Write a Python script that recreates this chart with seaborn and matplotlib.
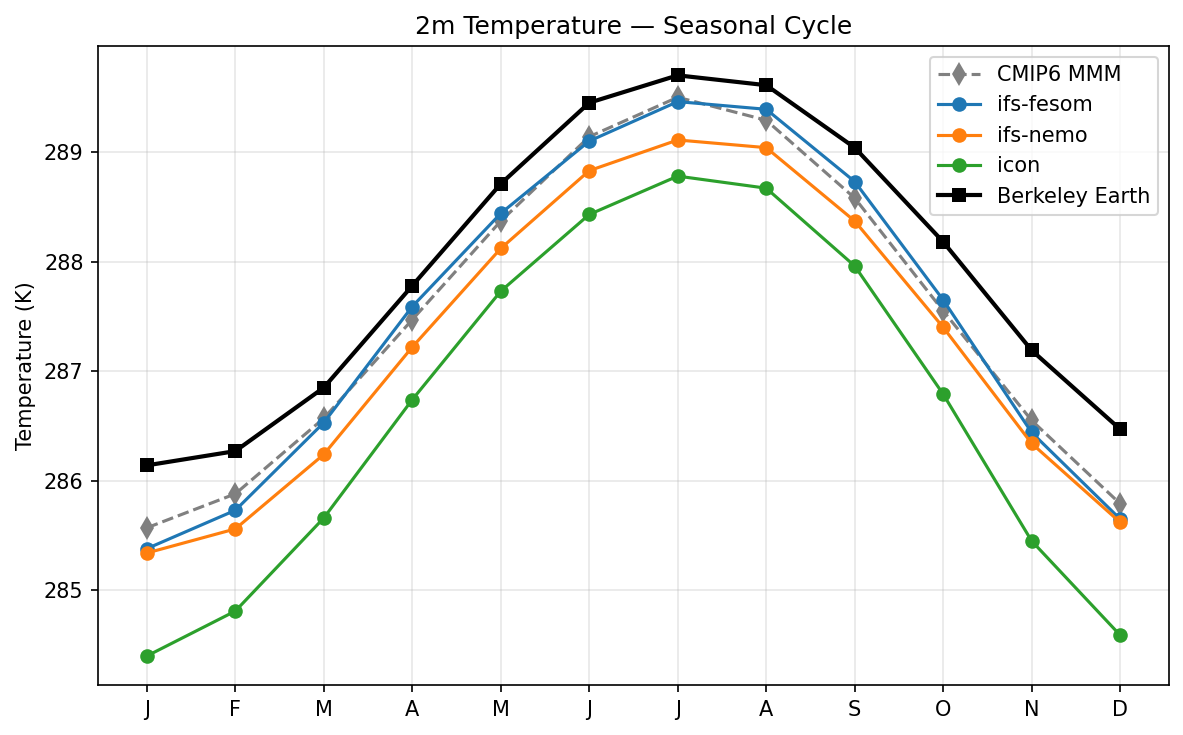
import numpy as np
import matplotlib
matplotlib.use("Agg")
import matplotlib.pyplot as plt
import seaborn as sns

# mean seasonal cycle of 2m temperature (K)
months = ["J", "F", "M", "A", "M", "J", "J", "A", "S", "O", "N", "D"]
cmip6_mmm = [285.57, 285.88, 286.57, 287.47, 288.37, 289.14, 289.50, 289.29, 288.58, 287.55, 286.55, 285.79]
ifs_fesom = [285.38, 285.73, 286.53, 287.59, 288.44, 289.10, 289.46, 289.39, 288.73, 287.65, 286.44, 285.65]
ifs_nemo = [285.34, 285.56, 286.24, 287.22, 288.12, 288.83, 289.11, 289.04, 288.37, 287.40, 286.34, 285.62]
icon = [284.40, 284.81, 285.66, 286.74, 287.73, 288.43, 288.78, 288.67, 287.96, 286.79, 285.45, 284.59]
berkeley = [286.14, 286.27, 286.85, 287.78, 288.71, 289.45, 289.70, 289.61, 289.04, 288.18, 287.19, 286.47]

x = np.arange(len(months))

fig, ax = plt.subplots(figsize=(1183 / 150, 735 / 150), dpi=150)

sns.lineplot(x=x, y=cmip6_mmm, ax=ax, color="gray", linestyle="--", marker="d",
             markersize=8, markeredgewidth=0, linewidth=1.5, label="CMIP6 MMM")
sns.lineplot(x=x, y=ifs_fesom, ax=ax, color="#1f77b4", marker="o",
             markersize=7, markeredgewidth=0, linewidth=1.5, label="ifs-fesom")
sns.lineplot(x=x, y=ifs_nemo, ax=ax, color="#ff7f0e", marker="o",
             markersize=7, markeredgewidth=0, linewidth=1.5, label="ifs-nemo")
sns.lineplot(x=x, y=icon, ax=ax, color="#2ca02c", marker="o",
             markersize=7, markeredgewidth=0, linewidth=1.5, label="icon")
sns.lineplot(x=x, y=berkeley, ax=ax, color="black", marker="s",
             markersize=7, markeredgewidth=0, linewidth=2, label="Berkeley Earth")

ax.set_xticks(x)
ax.set_xticklabels(months)
ax.set_ylabel("Temperature (K)")
ax.set_title("2m Temperature \u2014 Seasonal Cycle")
ax.grid(True, alpha=0.3)
ax.legend(loc="upper right")

fig.subplots_adjust(left=0.083, right=0.988, top=0.937, bottom=0.068)
fig.savefig("out.png", dpi=150)
